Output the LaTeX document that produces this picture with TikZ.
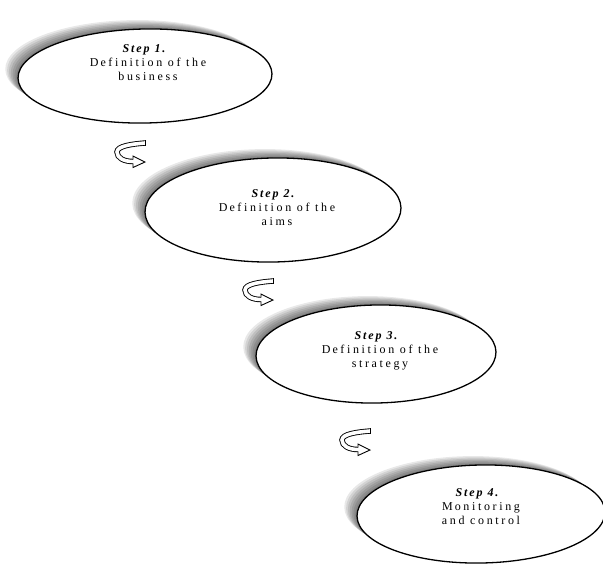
\documentclass[tikz,border=0pt]{standalone}
\usepackage{fontspec}
\setmainfont{Liberation Serif}
\newfontfamily\spacedfont[LetterSpace=22]{Liberation Serif}
\newfontfamily\stepfont[LetterSpace=16]{Liberation Serif}
\usetikzlibrary{shapes.geometric,calc}
\newcommand\ellshadow[3]{%
  \begin{scope}[shift={(#1)}, rotate=1]
    \foreach \i in {1,...,7}{\fill[black,opacity=0.09] (-1.8*\i,-1.3*\i) ellipse [x radius=#2, y radius=#3];}
  \end{scope}}
\newcommand\steplabel[1]{{\stepfont\bfseries\itshape #1}\hspace*{8pt}}
\begin{document}
\begin{tikzpicture}[x=1pt,y=-1pt,
  stepell/.style={ellipse, draw, line width=1.3pt, fill=white, inner sep=0pt, rotate=1},
  steptext/.style={align=center, font=\spacedfont\fontsize{12}{14}\selectfont, inner sep=0pt},
  turnarrow/.pic={
    \draw[line width=0.9pt, double=white, double distance=3.6pt] (15,-9) .. controls (2,-8) and (-13,-6) .. (-13,0) .. controls (-13,6) and (-6,9.5) .. (3,9.5);
    \draw[line width=0.9pt] (15,-11.7) -- (15,-6.3);
    \filldraw[line width=0.9pt, fill=white, line join=miter] (3,7.7) -- (3,4) -- (15,10) -- (3,15.5) -- (3,11.3);
  }]
\useasboundingbox (0,0) rectangle (603,563);
\fill[white] (0,0) rectangle (603,563);
% centres
\coordinate (c1) at (145,76);
\coordinate (c2) at (273,210);
\coordinate (c3) at (376,354);
\coordinate (c4) at (481,514);
% shadows
\ellshadow{c1}{127}{47}
\ellshadow{c2}{128}{52}
\ellshadow{c3}{120}{49}
\ellshadow{c4}{124}{49}
% ellipses
\node[stepell, minimum width=254pt, minimum height=94pt] (s1) at (c1) {};
\node[stepell, minimum width=256pt, minimum height=104pt] (s2) at (c2) {};
\node[stepell, minimum width=240pt, minimum height=98pt] (s3) at (c3) {};
\node[stepell, minimum width=248pt, minimum height=98pt] (s4) at (c4) {};
% texts
\node[steptext] (t1) at ($(c1)+(3,-13)$) {\steplabel{Step 1.}\\D\kern2pt efinition of the\\business};
\node[steptext] (t2) at ($(c2)+(4,-2)$) {\steplabel{Step 2.}\\D\kern2pt efinition of the\\aims};
\node[steptext] (t3) at ($(c3)+(4,-3)$) {\steplabel{Step 3.}\\D\kern2pt efinition of the\\strategy};
\node[steptext] (t4) at ($(c4)+(0,-7)$) {\steplabel{Step 4.}\\M\kern2pt onitoring\\and control};
% turning arrows
\pic (a1) at (130,152) {turnarrow};
\pic (a2) at (258,290) {turnarrow};
\pic (a3) at (355,440) {turnarrow};
\end{tikzpicture}
\end{document}
